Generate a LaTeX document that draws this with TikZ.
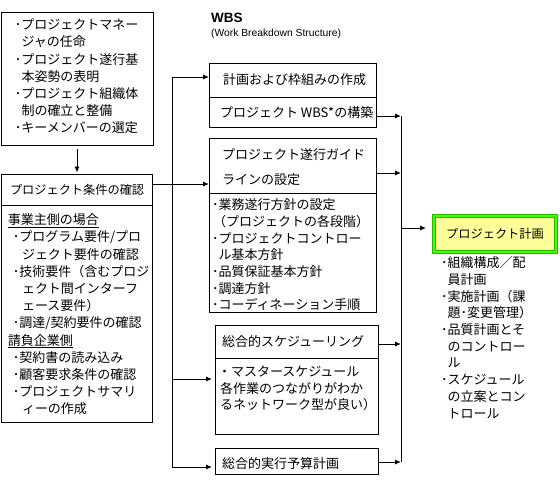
\documentclass[tikz,border=0pt]{standalone}
\usepackage{fontspec}
\setmainfont{Noto Sans CJK JP}
\newfontfamily\latfont{Liberation Sans}
\usetikzlibrary{arrows.meta}
\definecolor{gbright}{RGB}{60,255,0}
\definecolor{gdark}{RGB}{40,185,0}
\definecolor{gfill}{RGB}{255,255,153}
\newcommand\ci{\hspace*{6.5pt}}
\newcommand\ba{\hspace*{5pt}}
\newcommand\bb{\hspace*{14pt}}
\tikzset{
 box/.style={draw, line width=0.9pt, inner sep=0pt, outer sep=0pt, anchor=north west},
 ln/.style={anchor=base west, inner sep=0pt, outer sep=0pt, font=\fontsize{13}{16}\selectfont},
 arr/.style={-{Latex[length=6pt,width=5pt]}, line width=0.9pt},
 wire/.style={line width=0.9pt},
 gbox/.style={draw=gdark, line width=0.7pt, double=gbright, double distance=2.2pt, fill=gfill, inner sep=0pt, outer sep=0pt, font=\fontsize{12.2}{14}\selectfont}
}
\begin{document}
\begin{tikzpicture}[x=1pt,y=-1pt]
\useasboundingbox (0,0) rectangle (560,483);
\fill[white] (0,0) rectangle (560,483);

% boxes
\node[box, minimum width=152pt, minimum height=133pt] (tl) at (1,12) {};
\node[box, minimum width=151pt, minimum height=31pt] (condh) at (1,174) {};
\node[box, minimum width=151pt, minimum height=217pt] (condb) at (1,205) {};
\node[box, minimum width=167pt, minimum height=34pt] (plan1) at (209,63) {};
\node[box, minimum width=167pt, minimum height=30pt] (plan2) at (209,97) {};
\node[box, minimum width=167pt, minimum height=55pt] (guide1) at (209,138) {};
\node[box, minimum width=167pt, minimum height=119pt] (guide2) at (209,193) {};
\node[box, minimum width=163pt, minimum height=33pt] (sched1) at (215,325) {};
\node[box, minimum width=163pt, minimum height=76pt] (sched2) at (215,358) {};
\node[box, minimum width=163pt, minimum height=26pt] (budget) at (215,448) {};
\node[gbox, minimum width=122pt, minimum height=36pt] (green) at (495,234) {プロジェクト計画};

% title
\node[anchor=base west, inner sep=0pt, font=\latfont\bfseries\fontsize{13.5}{16}\selectfont] (wbs) at (211,22) {WBS};
\node[anchor=base west, inner sep=0pt, font=\latfont\fontsize{10.3}{12}\selectfont] (wbssub) at (211,36.6) {(Work Breakdown Structure)};

% top-left text
\foreach \t [count=\i] in {･プロジェクトマネー, \ci ジャの任命, ･プロジェクト遂行基, \ci 本姿勢の表明, ･プロジェクト組織体, \ci 制の確立と整備, ･キーメンバーの選定}
  {\node[ln] (tlt\i) at (15,{29.7+17.2*(\i-1)}) {\t};}

% conditions
\node[ln, font=\fontsize{12.2}{16}\selectfont] (condt) at (10,194.5) {プロジェクト条件の確認};
\foreach \t [count=\i] in {\underline{事業主側の場合}, {\ba ･プログラム要件/プロ}, \bb ジェクト要件の確認, \ba ･技術要件（含むプロジ, \bb ェクト間インターフ, \bb ェース要件）, {\ba ･調達/契約要件の確認}, \underline{請負企業側}, \ba ･契約書の読み込み, \ba ･顧客要求条件の確認, \ba ･プロジェクトサマリ, \bb ィーの作成}
  {\node[ln] (cb\i) at (8,{224.7+17.2*(\i-1)}) {\t};}

% plan
\node[ln] (plan1t) at (223,84.7) {計画および枠組みの作成};
\node[ln] (plan2t) at (220,117.7) {プロジェクト WBS*の構築};

% guide
\node[ln] (g1a) at (222,159.7) {プロジェクト遂行ガイド};
\node[ln] (g1b) at (222,184.7) {ラインの設定};
\foreach \t [count=\i] in {･業務遂行方針の設定, \hspace*{1pt}（プロジェクトの各段階）, ･プロジェクトコントロー, \ci ル基本方針, ･品質保証基本方針, ･調達方針, ･コーディネーション手順}
  {\node[ln] (g2\i) at (212,{209.7+16.7*(\i-1)}) {\t};}

% schedule
\node[ln] (s1t) at (222,346.7) {総合的スケジューリング};
\node[ln] (s2a) at (218,376.7) {・マスタースケジュール};
\node[ln] (s2b) at (218,393.2) {\hspace*{2pt}各作業のつながりがわか};
\node[ln] (s2c) at (218,409.7) {\hspace*{2pt}るネットワーク型が良い）};

% budget
\node[ln] (bt) at (222,468.7) {総合的実行予算計画};

% right list
\foreach \t [count=\i] in {･組織構成／配, \ci 員計画, ･実施計画（課, \ci 題･変更管理）, ･品質計画とそ, \ci のコントロー, \ci ル, ･スケジュール, \ci の立案とコン, \ci トロール}
  {\node[ln] (r\i) at (441,{267.7+16.7*(\i-1)}) {\t};}

% connectors
\draw[arr] ([yshift=-4pt]tl.south) -- ([yshift=1.5pt]tl.south |- condh.north);

\coordinate (lt) at (172,77);
\coordinate (lh) at (172,184);
\coordinate (ls) at (172,379);
\coordinate (lb) at (172,467);
\draw[wire] (lt) -- (lb);
\draw[arr] (lt) -- (lt -| plan1.west);
\draw[arr] (condh.east |- lh) -- (lh -| guide1.west);
\draw[arr] (ls) -- ([xshift=-3pt]ls -| sched2.west);
\draw[arr] (lb) -- ([xshift=-3pt]lb -| budget.west);

\coordinate (rt) at (401,116);
\coordinate (rg) at (401,173);
\coordinate (rp) at (401,228);
\coordinate (rs) at (401,344);
\coordinate (rb) at (401,462);
\draw[wire] (rt) -- (rb);
\draw[arr] (plan2.east |- rt) -- (rt);
\draw[arr] (guide1.east |- rg) -- (rg);
\draw[arr] (sched1.east |- rs) -- (rs);
\draw[arr] (budget.east |- rb) -- (rb);
\draw[arr] (rp) -- ([xshift=-8pt]rp -| green.west);
\end{tikzpicture}
\end{document}
